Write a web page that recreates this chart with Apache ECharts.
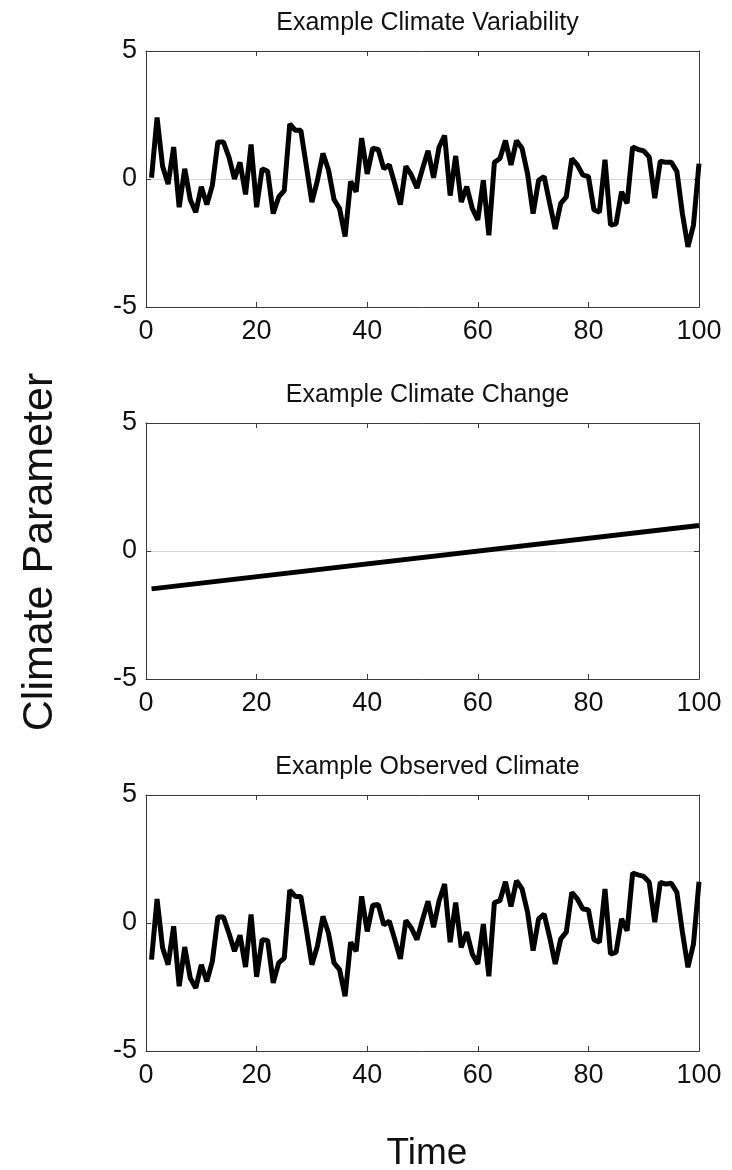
<!DOCTYPE html>
<html>
<head>
<meta charset="utf-8">
<script src="https://cdn.jsdelivr.net/npm/echarts@6/dist/echarts.min.js"></script>
<style>
html,body{margin:0;padding:0;background:#fff;}
#chart{width:732px;height:1170px;}
</style>
</head>
<body>
<div id="chart"></div>
<script>
// ---- Data ----
const panelTitles = ['Example Climate Variability', 'Example Climate Change', 'Example Observed Climate'];
const xTickValues = [0, 20, 40, 60, 80, 100];
const yTickValues = [-5, 0, 5];
const xAxisTitle = 'Time';
const yAxisTitle = 'Climate Parameter';

const variability = [
  0.05, 2.4, 0.5, -0.2, 1.25, -1.1, 0.4, -0.8, -1.3, -0.3,
  -1.0, -0.25, 1.45, 1.45, 0.85, 0.0, 0.65, -0.6, 1.35, -1.1,
  0.4, 0.3, -1.35, -0.7, -0.45, 2.15, 1.9, 1.9, 0.5, -0.9,
  -0.05, 1.0, 0.35, -0.8, -1.15, -2.25, -0.1, -0.5, 1.6, 0.2,
  1.2, 1.15, 0.4, 0.55, -0.2, -1.0, 0.5, 0.15, -0.35, 0.4,
  1.1, 0.05, 1.25, 1.7, -0.65, 0.9, -0.9, -0.3, -1.15, -1.6,
  -0.05, -2.2, 0.65, 0.8, 1.5, 0.55, 1.5, 1.2, 0.2, -1.35,
  -0.05, 0.1, -0.95, -1.95, -0.95, -0.7, 0.8, 0.55, 0.15, 0.1,
  -1.2, -1.3, 0.75, -1.8, -1.75, -0.5, -0.95, 1.25, 1.15, 1.1,
  0.85, -0.75, 0.7, 0.65, 0.65, 0.3, -1.35, -2.65, -1.8, 0.6
];

const changeTime = [1, 100];
const changeValues = [-1.48, 1.0];

const observed = [
  -1.43, 0.94, -0.97, -1.63, -0.13, -2.47, -0.94, -2.15, -2.54, -1.63,
  -2.28, -1.5, 0.23, 0.23, -0.4, -1.1, -0.48, -1.72, 0.33, -2.1,
  -0.65, -0.68, -2.34, -1.56, -1.37, 1.28, 1.04, 1.04, -0.26, -1.63,
  -0.9, 0.26, -0.4, -1.56, -1.82, -2.86, -0.75, -1.1, 1.04, -0.33,
  0.69, 0.72, -0.07, 0.07, -0.65, -1.4, 0.1, -0.2, -0.65, 0.13,
  0.85, -0.17, 0.87, 1.52, -0.75, 0.8, -0.95, -0.36, -1.21, -1.6,
  -0.04, -2.08, 0.8, 0.87, 1.61, 0.65, 1.65, 1.33, 0.42, -1.08,
  0.16, 0.35, -0.56, -1.6, -0.62, -0.36, 1.2, 0.94, 0.55, 0.52,
  -0.65, -0.75, 1.33, -1.21, -1.15, 0.16, -0.3, 1.95, 1.88, 1.82,
  1.59, 0.03, 1.59, 1.52, 1.55, 1.2, -0.36, -1.73, -0.82, 1.61
];

// time steps 1..100 (x positions of the yearly samples)
const timeSteps = [];
for (let t = 1; t <= variability.length; t++) timeSteps.push(t);

// ---- Chart ----
const FONT = "'Liberation Sans', Arial, sans-serif";
const plotLeft = 146, plotRight = 33, plotHeight = 256;
const plotTops = [51, 423, 795];
const frameColor = '#3a3a3a';
const zeroColor = '#d4d4d4';

function pairs(xs, ys) { return xs.map((x, i) => [x, ys[i]]); }

const grids = [], xAxes = [], yAxes = [], series = [], titles = [];
const seriesData = [
  pairs(timeSteps, variability),
  pairs(changeTime, changeValues),
  pairs(timeSteps, observed)
];

for (let i = 0; i < 3; i++) {
  grids.push({ left: plotLeft, right: plotRight, top: plotTops[i], height: plotHeight, containLabel: false });
  const xBase = {
    type: 'value', min: xTickValues[0], max: xTickValues[xTickValues.length - 1],
    interval: xTickValues[1] - xTickValues[0], gridIndex: i,
    axisLine: { show: true, onZero: false, lineStyle: { color: frameColor, width: 1 } },
    axisTick: { show: true, inside: true, length: 5, lineStyle: { color: frameColor } },
    splitLine: { show: false }
  };
  xAxes.push(Object.assign({}, xBase, {
    position: 'bottom',
    axisLabel: { show: true, color: '#111', fontSize: 27, fontFamily: FONT, margin: 11 }
  }));
  xAxes.push(Object.assign({}, xBase, { position: 'top', axisLabel: { show: false } }));
  const yBase = {
    type: 'value', min: yTickValues[0], max: yTickValues[yTickValues.length - 1],
    interval: yTickValues[1] - yTickValues[0], gridIndex: i,
    axisLine: { show: true, onZero: false, lineStyle: { color: frameColor, width: 1 } },
    axisTick: { show: true, inside: true, length: 5, lineStyle: { color: frameColor } }
  };
  yAxes.push(Object.assign({}, yBase, {
    position: 'left',
    axisLabel: { show: true, color: '#111', fontSize: 27, fontFamily: FONT, margin: 9 },
    splitLine: { show: true, lineStyle: { color: zeroColor, width: 1 } }
  }));
  yAxes.push(Object.assign({}, yBase, { position: 'right', axisLabel: { show: false }, splitLine: { show: false } }));
  series.push({
    type: 'line', xAxisIndex: i * 2, yAxisIndex: i * 2,
    data: seriesData[i], showSymbol: false, symbol: 'none',
    lineStyle: { color: '#000', width: 5, join: 'bevel', cap: 'butt' },
    itemStyle: { color: '#000' }, z: 5
  });
  titles.push({
    text: panelTitles[i], left: 422.5, top: plotTops[i] - 45, textAlign: 'center',
    textStyle: { fontSize: 25, fontWeight: 'normal', color: '#111', fontFamily: FONT }
  });
}

const chart = echarts.init(document.getElementById('chart'), null, { renderer: 'canvas' });
chart.setOption({
  animation: false,
  backgroundColor: '#fff',
  title: titles,
  grid: grids,
  xAxis: xAxes,
  yAxis: yAxes,
  series: series,
  graphic: [
    {
      type: 'text', x: 40, y: 552, rotation: Math.PI / 2,
      style: { text: yAxisTitle, fontSize: 43, fontFamily: FONT, fill: '#111', align: 'center', verticalAlign: 'middle' }
    },
    {
      type: 'text', x: 427, y: 1154,
      style: { text: xAxisTitle, fontSize: 37, fontFamily: FONT, fill: '#111', align: 'center', verticalAlign: 'middle' }
    }
  ]
});
</script>
</body>
</html>
